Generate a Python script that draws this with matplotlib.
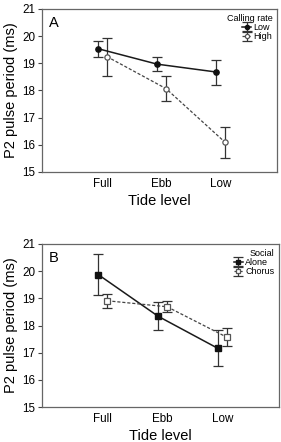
import matplotlib
matplotlib.use("Agg")
import matplotlib.pyplot as plt

plt.rcParams['font.family'] = ['Liberation Sans', 'DejaVu Sans']

tide = ["Full", "Ebb", "Low"]

# Panel A: Calling rate
a_low = [19.54, 18.97, 18.68]
a_low_hi = [19.81, 19.23, 19.13]
a_low_lo = [19.25, 18.72, 18.22]
a_high = [19.25, 18.07, 16.09]
a_high_hi = [19.95, 18.55, 16.67]
a_high_lo = [18.53, 17.60, 15.51]

# Panel B: Social
b_alone = [19.87, 18.34, 17.16]
b_alone_hi = [20.62, 18.87, 17.83]
b_alone_lo = [19.13, 17.84, 16.52]
b_chorus = [18.91, 18.69, 17.57]
b_chorus_hi = [19.16, 18.91, 17.92]
b_chorus_lo = [18.65, 18.49, 17.24]

W, H = 281, 442
fig = plt.figure(figsize=(W / 100, H / 100), dpi=100)

def px_axes(l, t, r, b):
    return fig.add_axes([l / W, 1 - b / H, (r - l) / W, (b - t) / H])

axA = px_axes(42, 9, 277, 172)
axB = px_axes(42, 244, 279, 407)

off = 0.075
xs = [1, 2, 3]

def draw(ax, s1, s1hi, s1lo, s2, s2hi, s2lo, name1, name2, title, mk, letter):
    x1 = [x - off for x in xs]
    x2 = [x + off for x in xs]
    e1 = [[v - l for v, l in zip(s1, s1lo)], [h - v for v, h in zip(s1, s1hi)]]
    e2 = [[v - l for v, l in zip(s2, s2lo)], [h - v for v, h in zip(s2, s2hi)]]
    c1 = ax.errorbar(x1, s1, yerr=e1, fmt='-', marker=mk, color='#1a1a1a', ms=3.8,
                     mfc='#111111', mec='#111111', lw=1.1, elinewidth=0.9,
                     capsize=3.5, capthick=0.9, ecolor='#333333', label=name1)
    c2 = ax.errorbar(x2, s2, yerr=e2, fmt='--', marker=mk, color='#444444', ms=3.8,
                     mfc='white', mec='#555555', mew=0.9, lw=0.9, elinewidth=0.9,
                     capsize=3.5, capthick=0.9, ecolor='#333333', label=name2,
                     dashes=(2.5, 1.5))
    ax.set_xlim(-0.02, 3.95)
    ax.set_ylim(15, 21)
    ax.set_xticks(xs)
    ax.set_xticklabels(tide)
    ax.set_yticks(range(15, 22))
    ax.tick_params(axis='both', labelsize=8.4, direction='out', length=3,
                   width=0.8, color='#444444', pad=2)
    ax.tick_params(axis='x', length=0, pad=4)
    for sp in ax.spines.values():
        sp.set_color('#666666')
        sp.set_linewidth(0.9)
    ax.set_xlabel("Tide level", fontsize=10.5, labelpad=3)
    ax.set_ylabel("P2 pulse period (ms)", fontsize=10.5, labelpad=3)
    ax.text(0.03, 0.96, letter, transform=ax.transAxes, fontsize=10.5,
            va='top', ha='left')
    leg = ax.legend(handles=[c1, c2], title=title, loc='upper right',
                    frameon=False, fontsize=6.5, title_fontsize=6.5,
                    handlelength=1.0, handletextpad=0.3, labelspacing=0.05,
                    borderaxespad=0.3, borderpad=0.2, markerscale=0.8)
    leg._legend_box.align = "right"

draw(axA, a_low, a_low_hi, a_low_lo, a_high, a_high_hi, a_high_lo,
     "Low", "High", "Calling rate", 'o', "A")
draw(axB, b_alone, b_alone_hi, b_alone_lo, b_chorus, b_chorus_hi, b_chorus_lo,
     "Alone", "Chorus", "Social", 's', "B")

fig.savefig("out.png", dpi=100)
